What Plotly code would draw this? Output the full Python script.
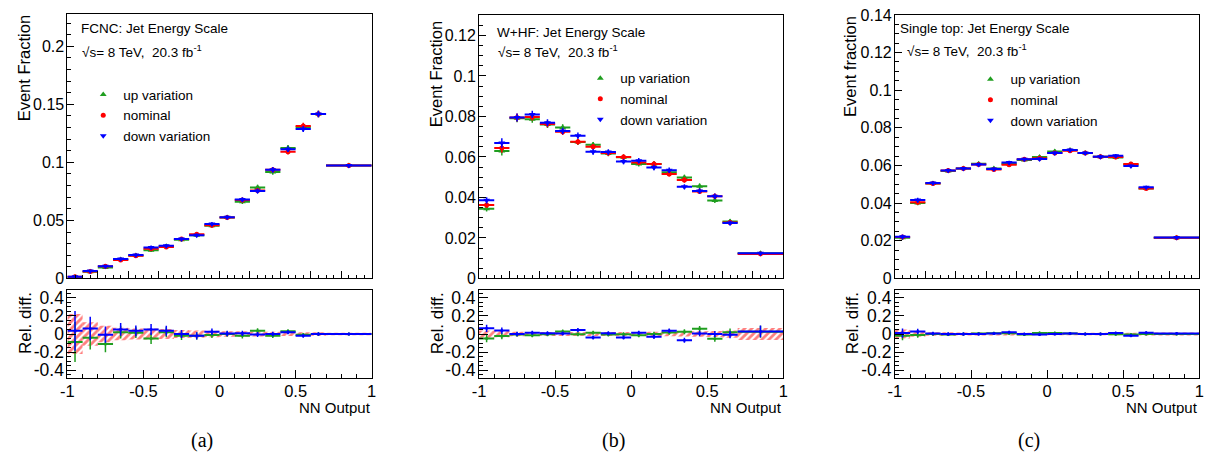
import plotly.graph_objects as go

# Binning of the NN output (last bin is wider)
bin_edges = [-1.0, -0.9, -0.8, -0.7, -0.6, -0.5, -0.4, -0.3, -0.2, -0.1,
             0.0, 0.1, 0.2, 0.3, 0.4, 0.5, 0.6, 0.7, 1.0]

# FCNC signal: nominal event fractions, relative shifts and relative stat. errors
fcnc_nominal = [0.0014, 0.0060, 0.0105, 0.0160, 0.0195, 0.0255, 0.0272, 0.0340, 0.0380,
                0.0458, 0.0525, 0.0675, 0.0758, 0.0936, 0.1092, 0.1314, 0.1417, 0.0972]
fcnc_up_rel = [-0.088, -0.040, -0.110, 0.020, 0.015, -0.050, 0.020, -0.020, -0.020,
               -0.010, 0.000, -0.020, 0.035, -0.020, 0.030, -0.008, 0.000, 0.000]
fcnc_down_rel = [0.035, 0.060, -0.007, 0.050, 0.035, 0.050, 0.035, 0.000, -0.020,
                 0.025, 0.005, 0.007, -0.005, 0.000, 0.020, -0.020, 0.000, 0.000]
fcnc_stat_rel = [0.22, 0.13, 0.09, 0.07, 0.06, 0.06, 0.055, 0.045, 0.04,
                 0.035, 0.03, 0.03, 0.028, 0.025, 0.022, 0.02, 0.02, 0.015]

# W+heavy flavour background
whf_nominal = [0.0363, 0.0644, 0.0795, 0.0798, 0.0763, 0.0725, 0.0675, 0.0650, 0.0620,
               0.0600, 0.0573, 0.0565, 0.0516, 0.0486, 0.0430, 0.0406, 0.0276, 0.0121]
whf_up_rel = [-0.050, -0.022, -0.005, -0.014, -0.004, 0.028, -0.002, 0.015, -0.005,
              -0.003, -0.014, 0.000, 0.017, 0.025, 0.058, -0.053, 0.020, 0.025]
whf_down_rel = [0.063, 0.038, 0.000, 0.015, 0.008, 0.005, 0.045, -0.038, 0.008,
                -0.038, 0.015, -0.030, 0.035, -0.068, 0.005, 0.000, -0.007, 0.028]
whf_stat_rel = [0.04, 0.035, 0.025, 0.022, 0.022, 0.022, 0.022, 0.022, 0.022,
                0.022, 0.022, 0.025, 0.025, 0.028, 0.03, 0.032, 0.04, 0.065]

# Single top background
st_nominal = [0.0220, 0.0405, 0.0504, 0.0574, 0.0584, 0.0606, 0.0579, 0.0604, 0.0633,
              0.0638, 0.0667, 0.0679, 0.0667, 0.0647, 0.0645, 0.0608, 0.0478, 0.0216]
st_up_rel = [-0.020, -0.010, 0.000, -0.005, 0.000, 0.005, 0.008, 0.008, -0.006,
             0.012, 0.012, 0.005, 0.000, 0.000, -0.004, -0.005, 0.000, 0.000]
st_down_rel = [0.010, 0.028, 0.005, 0.000, 0.000, 0.000, 0.005, 0.020, 0.000,
               -0.005, 0.000, 0.005, 0.000, 0.000, 0.010, -0.018, 0.014, 0.005]
st_stat_rel = [0.05, 0.03, 0.02, 0.018, 0.016, 0.016, 0.016, 0.016, 0.015,
               0.015, 0.014, 0.014, 0.014, 0.015, 0.015, 0.015, 0.016, 0.016]

series_names = ["up variation", "nominal", "down variation"]
ratio_ticks = [-0.4, -0.2, 0.0, 0.2, 0.4]
ratio_ticktext = ["-0.4", "-0.2", "0", "0.2", "0.4"]
nn_ticks = [-1.0, -0.5, 0.0, 0.5, 1.0]
nn_ticktext = ["-1", "-0.5", "0", "0.5", "1"]

W, H = 1221, 466
FONT = "Liberation Sans, Arial, Helvetica, sans-serif"
GREEN, RED, BLUE = "#1f9e1f", "#ff0000", "#0000ff"


def fx(p):
    return p / W


def fy(p):
    return 1 - p / H


centers = [(a + b) / 2 for a, b in zip(bin_edges[:-1], bin_edges[1:])]
widths = [b - a for a, b in zip(bin_edges[:-1], bin_edges[1:])]
half_widths = [w / 2 for w in widths]

panels = [
    dict(title="FCNC: Jet Energy Scale", ytitle="Event Fraction", label="(a)",
         nom=fcnc_nominal, up=fcnc_up_rel, down=fcnc_down_rel, stat=fcnc_stat_rel,
         x0=61, x1=368.3, top=6, yrange=[0, 0.228], dtick=0.05, minor=0.01,
         txt_x=(72.5, 73.5), txt_y=(21.7, 45), leg=(77, 74), ytitle_x=16.7, ytop=6),
    dict(title="W+HF: Jet Energy Scale", ytitle="Event Fraction", label="(b)",
         nom=whf_nominal, up=whf_up_rel, down=whf_down_rel, stat=whf_stat_rel,
         x0=476.7, x1=784, top=7.5, yrange=[0, 0.13], dtick=0.02, minor=0.005,
         txt_x=(492.5, 493.5), txt_y=(25, 45), leg=(579, 57), ytitle_x=433, ytop=12),
    dict(title="Single top: Jet Energy Scale", ytitle="Event fraction", label="(c)",
         nom=st_nominal, up=st_up_rel, down=st_down_rel, stat=st_stat_rel,
         x0=896.7, x1=1204.3, top=7, yrange=[0, 0.1401], dtick=0.02, minor=0.005,
         txt_x=(900, 907), txt_y=(21.7, 43.5), leg=(973, 58), ytitle_x=852, ytop=6),
]

fig = go.Figure()
layout = dict(width=W, height=H, margin=dict(l=0, r=0, t=0, b=0),
              paper_bgcolor="white", plot_bgcolor="white", barmode="overlay",
              font=dict(family=FONT, color="black"), annotations=[])

RATIO_TOP, RATIO_BOT, MAIN_BOT = 292.7, 384, 280.7

for i, p in enumerate(panels):
    top_id, rat_id = 2 * i + 1, 2 * i + 2
    xt, yt = f"x{top_id}", f"y{top_id}"
    xr, yr = f"x{rat_id}", f"y{rat_id}"
    leg_name = "legend" if i == 0 else f"legend{i + 1}"

    up_vals = [n * (1 + r) for n, r in zip(p["nom"], p["up"])]
    down_vals = [n * (1 + r) for n, r in zip(p["nom"], p["down"])]
    series = [
        (series_names[0], up_vals, GREEN, "triangle-up", 6),
        (series_names[1], p["nom"], RED, "circle", 5),
        (series_names[2], down_vals, BLUE, "triangle-down", 6),
    ]
    for name, vals, col, sym, size in series:
        err = [v * s for v, s in zip(vals, p["stat"])]
        fig.add_trace(go.Scatter(
            x=centers, y=vals, mode="markers", name=name, legend=leg_name,
            marker=dict(symbol=sym, size=size, color=col),
            error_x=dict(type="data", array=half_widths, symmetric=True,
                         color=col, thickness=2, width=0),
            error_y=dict(type="data", array=err, symmetric=True,
                         color=col, thickness=1.5, width=0),
            xaxis=xt, yaxis=yt, showlegend=True))

    # Statistical band of the nominal template in the ratio pad
    fig.add_trace(go.Bar(
        x=centers, y=[2 * s for s in p["stat"]], base=[-s for s in p["stat"]],
        width=widths, showlegend=False,
        marker=dict(color="rgba(0,0,0,0)", line=dict(width=0),
                    pattern=dict(shape="/", fgcolor="#ff0000",
                                 bgcolor="rgba(0,0,0,0)", size=5,
                                 solidity=0.55, fillmode="overlay")),
        xaxis=xr, yaxis=yr))
    for rel, col in ((p["up"], GREEN), (p["down"], BLUE)):
        fig.add_trace(go.Scatter(
            x=centers, y=rel, mode="markers", showlegend=False,
            marker=dict(size=3, color=col),
            error_x=dict(type="data", array=half_widths, symmetric=True,
                         color=col, thickness=2, width=0),
            error_y=dict(type="data", array=p["stat"], symmetric=True,
                         color=col, thickness=1.5, width=0),
            xaxis=xr, yaxis=yr))

    axis_common = dict(showline=True, mirror=True, linecolor="black", linewidth=1,
                       showgrid=False, zeroline=False, ticks="inside",
                       tickcolor="black")
    sfx_t = "" if top_id == 1 else str(top_id)
    sfx_r = str(rat_id)
    layout["xaxis" + sfx_t] = dict(
        axis_common, domain=[fx(p["x0"]), fx(p["x1"])], range=[-1, 1],
        anchor=yt, showticklabels=False, tick0=-1, dtick=0.2, ticklen=7,
        minor=dict(ticks="inside", dtick=0.05, tick0=-1, ticklen=3.5,
                   tickcolor="black"))
    layout["yaxis" + sfx_t] = dict(
        axis_common, domain=[fy(MAIN_BOT), fy(p["top"])], range=p["yrange"],
        anchor=xt, tick0=0, dtick=p["dtick"], ticklen=7, ticklabelstandoff=-1,
        tickfont=dict(size=16, family=FONT),
        minor=dict(ticks="inside", dtick=p["minor"], tick0=0, ticklen=4,
                   tickcolor="black"))
    layout["xaxis" + sfx_r] = dict(
        axis_common, domain=[fx(p["x0"]), fx(p["x1"])], range=[-1, 1],
        anchor=yr, tickmode="array", tickvals=nn_ticks, ticktext=nn_ticktext,
        ticklen=8, ticklabelstandoff=-2, tickfont=dict(size=16.5, family=FONT),
        minor=dict(ticks="inside", dtick=0.1, tick0=-1, ticklen=4,
                   tickcolor="black"))
    layout["yaxis" + sfx_r] = dict(
        axis_common, domain=[fy(RATIO_BOT), fy(RATIO_TOP)], range=[-0.485, 0.485],
        anchor=xr, tickmode="array", tickvals=ratio_ticks, ticktext=ratio_ticktext,
        ticklen=9, ticklabelstandoff=-1, tickfont=dict(size=17.5, family=FONT),
        minor=dict(ticks="inside", dtick=0.05, tick0=0, ticklen=4,
                   tickcolor="black"))

    layout[leg_name] = dict(x=fx(p["leg"][0]), y=fy(p["leg"][1]),
                            xanchor="left", yanchor="top",
                            bgcolor="rgba(0,0,0,0)", borderwidth=0,
                            font=dict(size=13.5, family=FONT), tracegroupgap=0)

    ann = layout["annotations"]
    ann.append(dict(text=p["title"], x=fx(p["txt_x"][0]), y=fy(p["txt_y"][0]),
                    xref="paper", yref="paper", xanchor="left", yanchor="middle",
                    showarrow=False, font=dict(size=13.5, family=FONT)))
    ann.append(dict(text="\u221as= 8 TeV,  20.3 fb<sup>-1</sup>",
                    x=fx(p["txt_x"][1]), y=fy(p["txt_y"][1]),
                    xref="paper", yref="paper", xanchor="left", yanchor="middle",
                    showarrow=False, font=dict(size=13.5, family=FONT)))
    ann.append(dict(text=p["ytitle"], x=fx(p["ytitle_x"]), y=fy(p["ytop"]),
                    xref="paper", yref="paper", xanchor="center", yanchor="top",
                    textangle=-90, showarrow=False,
                    font=dict(size=16.5, family=FONT)))
    ann.append(dict(text="Rel. diff.", x=fx(p["ytitle_x"] + 1.5), y=fy(RATIO_TOP),
                    xref="paper", yref="paper", xanchor="center", yanchor="top",
                    textangle=-90, showarrow=False,
                    font=dict(size=17, family=FONT)))
    ann.append(dict(text="NN Output", x=fx(p["x1"] + 1), y=fy(415),
                    xref="paper", yref="paper", xanchor="right", yanchor="middle",
                    showarrow=False, font=dict(size=15, family=FONT)))
    ann.append(dict(text=p["label"], x=fx((p["x0"] + p["x1"]) / 2 - 18),
                    y=fy(449), xref="paper", yref="paper", xanchor="center",
                    yanchor="middle", showarrow=False,
                    font=dict(size=20, family="Liberation Serif, Times New Roman, serif")))

fig.update_layout(**layout)
# The page is exactly the figure size: drop the default body margin
fig.write_html("out.html",
               post_script="document.body.style.margin='0';"
                           "document.body.style.overflow='hidden';")
